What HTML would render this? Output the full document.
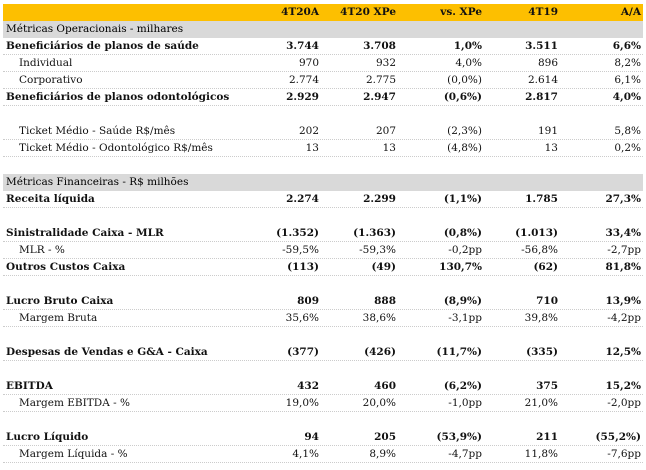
<!DOCTYPE html>
<html><head><meta charset="utf-8"><style>
body{margin:0;background:#fff;width:646px;height:470px;overflow:hidden;font-family:"DejaVu Serif","Liberation Serif",serif;font-size:10.5px;color:#111}
.t{position:absolute;left:3px;top:4px;width:640px}
.r{position:relative;height:17px;line-height:17px;white-space:nowrap}
.r.d{border-bottom:1px dotted #ccc;height:16px}
.hd{background:#fdbf00;font-weight:bold}
.g{background:#d9d9d9;color:#000}
.b{font-weight:bold}
.c{position:absolute;text-align:right}
.c1{right:324px}.c2{right:247px}.c3{right:161px}.c4{right:85px}.c5{right:2px}
.l{position:absolute;left:3px}.i{left:16px}
</style></head><body><div class="t">
<div class="r hd"><span class="c c1">4T20A</span><span class="c c2">4T20 XPe</span><span class="c c3">vs. XPe</span><span class="c c4">4T19</span><span class="c c5">A/A</span></div>
<div class="r g"><span class="l">Métricas Operacionais - milhares</span></div>
<div class="r d b"><span class="l">Beneficiários de planos de saúde</span><span class="c c1">3.744</span><span class="c c2">3.708</span><span class="c c3">1,0%</span><span class="c c4">3.511</span><span class="c c5">6,6%</span></div>
<div class="r d"><span class="l i">Individual</span><span class="c c1">970</span><span class="c c2">932</span><span class="c c3">4,0%</span><span class="c c4">896</span><span class="c c5">8,2%</span></div>
<div class="r d"><span class="l i">Corporativo</span><span class="c c1">2.774</span><span class="c c2">2.775</span><span class="c c3">(0,0%)</span><span class="c c4">2.614</span><span class="c c5">6,1%</span></div>
<div class="r d b"><span class="l">Beneficiários de planos odontológicos</span><span class="c c1">2.929</span><span class="c c2">2.947</span><span class="c c3">(0,6%)</span><span class="c c4">2.817</span><span class="c c5">4,0%</span></div>
<div class="r"></div>
<div class="r d"><span class="l i">Ticket Médio - Saúde R$/mês</span><span class="c c1">202</span><span class="c c2">207</span><span class="c c3">(2,3%)</span><span class="c c4">191</span><span class="c c5">5,8%</span></div>
<div class="r d"><span class="l i">Ticket Médio - Odontológico R$/mês</span><span class="c c1">13</span><span class="c c2">13</span><span class="c c3">(4,8%)</span><span class="c c4">13</span><span class="c c5">0,2%</span></div>
<div class="r"></div>
<div class="r g"><span class="l">Métricas Financeiras - R$ milhões</span></div>
<div class="r d b"><span class="l">Receita líquida</span><span class="c c1">2.274</span><span class="c c2">2.299</span><span class="c c3">(1,1%)</span><span class="c c4">1.785</span><span class="c c5">27,3%</span></div>
<div class="r"></div>
<div class="r d b"><span class="l">Sinistralidade Caixa - MLR</span><span class="c c1">(1.352)</span><span class="c c2">(1.363)</span><span class="c c3">(0,8%)</span><span class="c c4">(1.013)</span><span class="c c5">33,4%</span></div>
<div class="r d"><span class="l i">MLR - %</span><span class="c c1">-59,5%</span><span class="c c2">-59,3%</span><span class="c c3">-0,2pp</span><span class="c c4">-56,8%</span><span class="c c5">-2,7pp</span></div>
<div class="r d b"><span class="l">Outros Custos Caixa</span><span class="c c1">(113)</span><span class="c c2">(49)</span><span class="c c3">130,7%</span><span class="c c4">(62)</span><span class="c c5">81,8%</span></div>
<div class="r"></div>
<div class="r d b"><span class="l">Lucro Bruto Caixa</span><span class="c c1">809</span><span class="c c2">888</span><span class="c c3">(8,9%)</span><span class="c c4">710</span><span class="c c5">13,9%</span></div>
<div class="r d"><span class="l i">Margem Bruta</span><span class="c c1">35,6%</span><span class="c c2">38,6%</span><span class="c c3">-3,1pp</span><span class="c c4">39,8%</span><span class="c c5">-4,2pp</span></div>
<div class="r"></div>
<div class="r d b"><span class="l">Despesas de Vendas e G&amp;A - Caixa</span><span class="c c1">(377)</span><span class="c c2">(426)</span><span class="c c3">(11,7%)</span><span class="c c4">(335)</span><span class="c c5">12,5%</span></div>
<div class="r"></div>
<div class="r d b"><span class="l">EBITDA</span><span class="c c1">432</span><span class="c c2">460</span><span class="c c3">(6,2%)</span><span class="c c4">375</span><span class="c c5">15,2%</span></div>
<div class="r d"><span class="l i">Margem EBITDA - %</span><span class="c c1">19,0%</span><span class="c c2">20,0%</span><span class="c c3">-1,0pp</span><span class="c c4">21,0%</span><span class="c c5">-2,0pp</span></div>
<div class="r"></div>
<div class="r d b"><span class="l">Lucro Líquido</span><span class="c c1">94</span><span class="c c2">205</span><span class="c c3">(53,9%)</span><span class="c c4">211</span><span class="c c5">(55,2%)</span></div>
<div class="r d"><span class="l i">Margem Líquida - %</span><span class="c c1">4,1%</span><span class="c c2">8,9%</span><span class="c c3">-4,7pp</span><span class="c c4">11,8%</span><span class="c c5">-7,6pp</span></div>
</div></body></html>
